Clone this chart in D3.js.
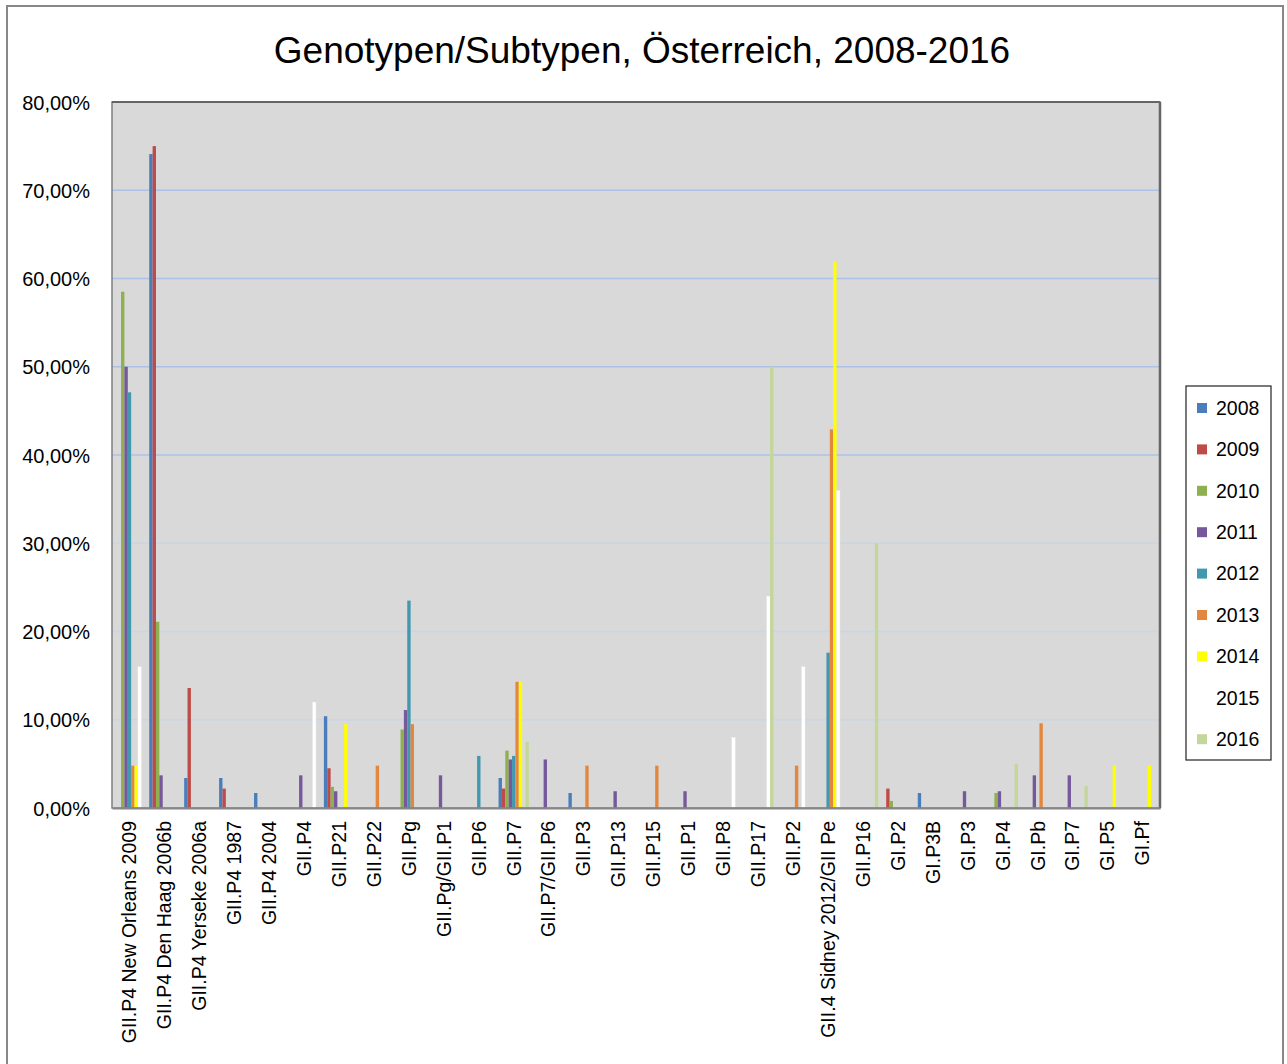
<!DOCTYPE html>
<html>
<head>
<meta charset="utf-8">
<script src="https://cdn.jsdelivr.net/npm/d3@7"></script>
<style>
  body { margin: 0; background: #fff; }
  text { font-family: "Liberation Sans", Arial, sans-serif; fill: #000; }
</style>
</head>
<body>
<div id="chart"></div>
<script>
// categories (genotype / subtype)
const categories = [
    "GII.P4 New Orleans 2009", "GII.P4 Den Haag 2006b", "GII.P4 Yerseke 2006a", "GII.P4 1987",
    "GII.P4 2004", "GII.P4", "GII.P21", "GII.P22", "GII.Pg", "GII.Pg/GII.P1", "GII.P6", "GII.P7",
    "GII.P7/GII.P6", "GII.P3", "GII.P13", "GII.P15", "GII.P1", "GII.P8", "GII.P17", "GII.P2",
    "GII.4 Sidney 2012/GII Pe", "GII.P16", "GI.P2", "GI.P3B", "GI.P3", "GI.P4", "GI.Pb", "GI.P7",
    "GI.P5", "GI.Pf"
];

const years = ["2008", "2009", "2010", "2011", "2012", "2013", "2014", "2015", "2016"];
const yearColors = ["#4a7ebb", "#be4b48", "#8fb04f", "#75599b", "#4198af", "#e3873f", "#ffff00", "#ffffff", "#c4d79b"];

// percentages per year, one value per category (in order above)
const v2008 = [0, 74.1, 3.4, 3.4, 1.7, 0, 10.4, 0, 0, 0, 0, 3.4, 0, 1.7, 0, 0, 0, 0, 0, 0, 0, 0, 0, 1.7, 0, 0, 0, 0, 0, 0];
const v2009 = [0, 75.0, 13.6, 2.2, 0, 0, 4.5, 0, 0, 0, 0, 2.2, 0, 0, 0, 0, 0, 0, 0, 0, 0, 0, 2.2, 0, 0, 0, 0, 0, 0, 0];
const v2010 = [58.5, 21.1, 0, 0, 0, 0, 2.4, 0, 8.9, 0, 0, 6.5, 0, 0, 0, 0, 0, 0, 0, 0, 0, 0, 0.8, 0, 0, 1.7, 0, 0, 0, 0];
const v2011 = [50.0, 3.7, 0, 0, 0, 3.7, 1.9, 0, 11.1, 3.7, 0, 5.5, 5.5, 0, 1.9, 0, 1.9, 0, 0, 0, 0, 0, 0, 0, 1.9, 1.9, 3.7, 3.7, 0, 0];
const v2012 = [47.1, 0, 0, 0, 0, 0, 0, 0, 23.5, 0, 5.9, 5.9, 0, 0, 0, 0, 0, 0, 0, 0, 17.6, 0, 0, 0, 0, 0, 0, 0, 0, 0];
const v2013 = [4.8, 0, 0, 0, 0, 0, 0, 4.8, 9.5, 0, 0, 14.3, 0, 4.8, 0, 4.8, 0, 0, 0, 4.8, 42.9, 0, 0, 0, 0, 0, 9.6, 0, 0, 0];
const v2014 = [4.8, 0, 0, 0, 0, 0, 9.5, 0, 0, 0, 0, 14.3, 0, 0, 0, 0, 0, 0, 0, 0, 61.9, 0, 0, 0, 0, 0, 0, 0, 4.8, 4.8];
const v2015 = [16.0, 0, 0, 0, 0, 12.0, 0, 0, 0, 0, 0, 0, 0, 0, 0, 0, 0, 8.0, 24.0, 16.0, 36.0, 0, 0, 0, 0, 0, 0, 0, 0, 0];
const v2016 = [0, 0, 0, 0, 0, 0, 0, 0, 0, 0, 0, 7.5, 0, 0, 0, 0, 0, 0, 50.0, 0, 0, 30.0, 0, 0, 0, 5.0, 0, 2.5, 0, 0];

const yTicks = [0, 10, 20, 30, 40, 50, 60, 70, 80];

const seriesValues = [v2008, v2009, v2010, v2011, v2012, v2013, v2014, v2015, v2016];

// Build flat table for drawing
const rows = [];
categories.forEach((c, i) => {
    years.forEach((y, j) => {
        rows.push({ cat: c, year: y, value: seriesValues[j][i] });
    });
});

const W = 1287, H = 1064;
const margin = { top: 102, left: 112, right: 1287 - 1160, bottom: 1064 - 808 };
const width = W - margin.left - margin.right;
const height = H - margin.top - margin.bottom;

const svg = d3.select("#chart").append("svg")
    .attr("width", W)
    .attr("height", H);

// outer chart border
svg.append("rect")
    .attr("x", 7).attr("y", 6)
    .attr("width", 1276).attr("height", 1070)
    .attr("fill", "#fff")
    .attr("stroke", "#888")
    .attr("stroke-width", 2);

// title
svg.append("text")
    .attr("x", 642)
    .attr("y", 63)
    .attr("text-anchor", "middle")
    .style("font-size", "37px")
    .text("Genotypen/Subtypen, Österreich, 2008-2016");

const g = svg.append("g")
    .attr("transform", "translate(" + margin.left + "," + margin.top + ")");

// Scales
const x0 = d3.scaleBand()
    .domain(categories)
    .range([0, width])
    .paddingInner(0)
    .paddingOuter(0);

const inset = 2.3;
const x1 = d3.scaleBand()
    .domain(years)
    .range([inset, x0.bandwidth() - inset])
    .padding(0);

const y = d3.scaleLinear()
    .domain([0, 80])
    .range([height, 0]);

// plot background
g.append("rect")
    .attr("width", width)
    .attr("height", height)
    .attr("fill", "#d9d9d9");

// gridlines
g.selectAll(".grid")
    .data(yTicks.filter(t => t > 0 && t < 80))
    .join("line")
    .attr("class", "grid")
    .attr("x1", 0)
    .attr("x2", width)
    .attr("y1", d => y(d))
    .attr("y2", d => y(d))
    .attr("stroke", d => d >= 40 ? "#abc2e6" : "#c8d5ea")
    .attr("stroke-width", 1.6);

// bars
g.selectAll(".bar")
    .data(rows.filter(d => d.value > 0))
    .join("rect")
    .attr("class", "bar")
    .attr("x", d => x0(d.cat) + x1(d.year))
    .attr("y", d => y(d.value))
    .attr("width", x1.bandwidth())
    .attr("height", d => height - y(d.value))
    .attr("fill", d => yearColors[years.indexOf(d.year)])
    .attr("stroke", d => d.year === "2015" ? "#eeeeee" : "none")
    .attr("stroke-width", 0.4);

// plot border
g.append("rect")
    .attr("width", width)
    .attr("height", height)
    .attr("fill", "none")
    .attr("stroke", "#7f7f7f")
    .attr("stroke-width", 1.5);
g.append("line")
    .attr("x1", 0).attr("x2", width)
    .attr("y1", 0).attr("y2", 0)
    .attr("stroke", "#333")
    .attr("stroke-width", 1.2);
g.append("line")
    .attr("x1", width).attr("x2", width)
    .attr("y1", 0).attr("y2", height)
    .attr("stroke", "#666")
    .attr("stroke-width", 2.5);

// y axis
const yAxis = d3.axisLeft(y)
    .tickValues(yTicks)
    .tickSize(0)
    .tickPadding(22)
    .tickFormat(d => d3.format(".2f")(d).replace(".", ",") + "%");

g.append("g")
    .attr("class", "y-axis")
    .call(yAxis)
    .call(s => s.select(".domain").remove())
    .selectAll("text")
    .style("font-size", "20px")
    .attr("dy", "0.35em");

// x axis
const xAxis = d3.axisBottom(x0).tickSize(0).tickPadding(0);

g.append("g")
    .attr("class", "x-axis")
    .attr("transform", "translate(0," + height + ")")
    .call(xAxis)
    .call(s => s.select(".domain").attr("stroke", "#868686").attr("stroke-width", 2))
    .selectAll("text")
    .style("font-size", "19.5px")
    .attr("text-anchor", "end")
    .attr("transform", "rotate(-90)")
    .attr("x", -13)
    .attr("y", 0)
    .attr("dy", "0.35em");

// legend
const legend = svg.append("g")
    .attr("transform", "translate(1186,386)");

legend.append("rect")
    .attr("width", 85)
    .attr("height", 374)
    .attr("fill", "#fff")
    .attr("stroke", "#222")
    .attr("stroke-width", 1.2);

const items = legend.selectAll(".legend-item")
    .data(years)
    .join("g")
    .attr("class", "legend-item")
    .attr("transform", (d, i) => "translate(0," + (22 + i * 41.4) + ")");

items.append("rect")
    .attr("x", 11)
    .attr("y", -5)
    .attr("width", 10)
    .attr("height", 10)
    .attr("fill", (d, i) => yearColors[i]);

items.append("text")
    .attr("x", 30)
    .attr("y", 0)
    .attr("dy", "0.35em")
    .style("font-size", "19.5px")
    .text(d => d);
</script>
</body>
</html>
